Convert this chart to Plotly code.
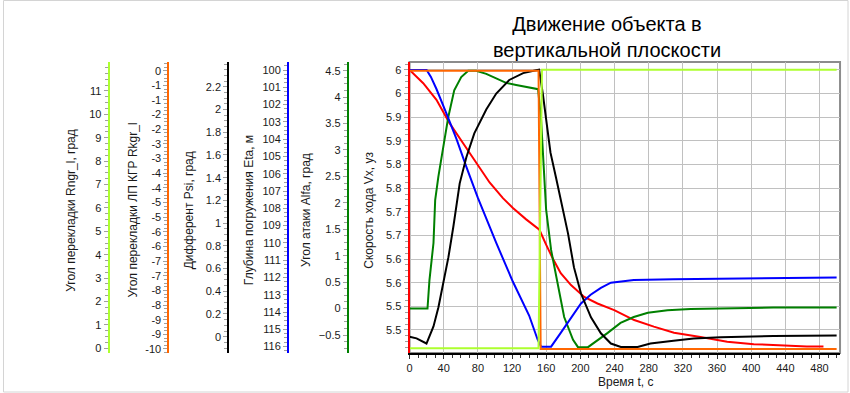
import plotly.graph_objects as go

# ---------------- data ----------------
# Скорость хода Vx, уз (red)
t_vx = [0, 16, 31.5, 47, 62.7, 78.2, 93.7, 109.3, 121, 136.5, 152, 160, 168, 177, 189,
        204.5, 220, 239.6, 263, 286, 309.6, 340.7, 371.9, 403, 434, 465, 484.6]
vx = [6.0, 5.972, 5.937, 5.887, 5.845, 5.803, 5.762, 5.729, 5.708, 5.684, 5.662, 5.630,
      5.600, 5.570, 5.545, 5.520, 5.506, 5.492, 5.471, 5.457, 5.444, 5.435, 5.425, 5.420,
      5.417, 5.415, 5.415]

# Угол атаки Alfa, град (green)
t_alfa = [0, 21, 23.3, 28, 30, 33.7, 39.5, 45.3, 52.3, 60.5, 68.7, 78, 89.8, 101.5, 113,
          124.8, 136.5, 150.5, 154, 159.9, 165.7, 173.9, 181, 191.4, 197.2, 208.9, 218, 232,
          247, 262.5, 279, 302, 329, 367.5, 426, 500]
alfa = [0, 0, 0.54, 1.24, 2.05, 2.49, 3.06, 3.62, 4.13, 4.38, 4.5, 4.5, 4.44, 4.36, 4.27,
        4.23, 4.19, 4.15, 3.57, 1.87, 1.11, 0.41, -0.16, -0.59, -0.73, -0.73, -0.63, -0.46,
        -0.27, -0.16, -0.08, -0.03, -0.01, 0.0, 0.02, 0.02]

# Глубина погружения Eta, м (blue)
t_eta = [0, 20, 25, 31.5, 43, 55, 66.5, 80, 101.5, 121, 140, 150, 154, 165.7, 177, 189,
         200.7, 212, 224, 235.7, 251, 262.5, 309, 364, 457, 500]
eta = [100, 100, 100.4, 101.1, 102.5, 104.0, 105.6, 107.4, 110.0, 112.25, 114.2, 115.6,
       116.0, 116.0, 115.2, 114.3, 113.5, 113.0, 112.6, 112.3, 112.2, 112.15, 112.1, 112.08,
       112.03, 112.0]

# Дифферент Psi, град (black)
t_psi = [0, 8.2, 19.8, 28, 33.8, 39.7, 45.5, 51.3, 58.7, 66.5, 75.8, 89.8, 101.5, 116.7,
         133, 148, 151.7, 156, 160, 165, 171.5, 179.7, 185.5, 192.5, 200.7, 212.4, 224,
         235.7, 247.4, 267, 282, 309, 332.6, 364, 426, 500]
psi = [0, -0.015, -0.06, 0.09, 0.26, 0.47, 0.70, 0.97, 1.35, 1.58, 1.79, 2.0, 2.14, 2.26,
       2.32, 2.345, 2.35, 2.14, 1.9, 1.62, 1.40, 1.12, 0.91, 0.61, 0.38, 0.17, 0.03,
       -0.06, -0.09, -0.09, -0.06, -0.035, -0.015, -0.005, 0.006, 0.01]

# Угол перекладки ЛП КГР Rkgr_l (orange)
t_rkgr = [0, 151, 153.5, 500]
rkgr = [0, 0, -10, -10]

# Угол перекладки Rngr_l, град (lime)
t_rngr = [0, 151, 155, 500]
rngr = [0, 0, 11.9, 11.9]

# tick labels
x_ticks = [0, 40, 80, 120, 160, 200, 240, 280, 320, 360, 400, 440, 480]
vx_tickvals = [6.0, 5.95, 5.9, 5.85, 5.8, 5.75, 5.7, 5.65, 5.6, 5.55, 5.5, 5.45]
vx_ticktext = ["6", "6", "5.9", "5.9", "5.8", "5.8", "5.7", "5.7", "5.6", "5.6", "5.5", "5.5"]
alfa_ticks = [-0.5, 0, 0.5, 1, 1.5, 2, 2.5, 3, 3.5, 4, 4.5]
eta_ticks = list(range(100, 117))
psi_ticks = [0, 0.2, 0.4, 0.6, 0.8, 1, 1.2, 1.4, 1.6, 1.8, 2, 2.2]
rkgr_ticktext = ["0", "-1", "-1", "-2", "-2", "-3", "-3", "-4", "-4", "-5", "-5", "-6",
                 "-6", "-7", "-7", "-8", "-8", "-9", "-9", "-10"]
rngr_ticks = list(range(0, 12))

# ---------------- layout helpers ----------------
W, H = 850, 393
TOP, BOT = 62, 353
LEFT, RIGHT = 408, 840
FONT = "Liberation Sans, Arial, sans-serif"
TXT = "#1a1a1a"


def fx(px):
    return px / W


def fy(py):
    return (BOT - py) / (BOT - TOP)


fig = go.Figure()
fig.add_trace(go.Scatter(x=t_rngr, y=rngr, yaxis="y6", mode="lines",
                         line=dict(color="#adff2f", width=2)))
fig.add_trace(go.Scatter(x=t_vx, y=vx, yaxis="y", mode="lines",
                         line=dict(color="#ff0000", width=2)))
fig.add_trace(go.Scatter(x=t_eta, y=eta, yaxis="y3", mode="lines",
                         line=dict(color="#0000ff", width=2)))
fig.add_trace(go.Scatter(x=t_alfa, y=alfa, yaxis="y2", mode="lines",
                         line=dict(color="#008000", width=2)))
fig.add_trace(go.Scatter(x=t_psi, y=psi, yaxis="y4", mode="lines",
                         line=dict(color="#000000", width=2)))
fig.add_trace(go.Scatter(x=t_rkgr, y=rkgr, yaxis="y5", mode="lines",
                         line=dict(color="#ff6600", width=2)))


def yax(color, rng, pos=None, tickvals=None, ticktext=None, minor_dtick=None, tick0=0,
        grid=False):
    d = dict(
        range=rng, showline=True, linecolor=color, linewidth=2,
        ticks="outside", ticklen=4, tickcolor="#a0a0a0", tickwidth=1,
        tickfont=dict(family=FONT, size=11, color=TXT),
        showgrid=grid, gridcolor="#c0c0c0", gridwidth=1, zeroline=False,
        tickmode="array", tickvals=tickvals, ticktext=ticktext,
        minor=dict(ticks="outside", ticklen=3, tickcolor="#a0a0a0", tickwidth=1,
                   tick0=tick0, dtick=minor_dtick, showgrid=False),
        fixedrange=True,
    )
    if pos is None:
        d.update(anchor="x", side="left", domain=[0, 1])
    else:
        d.update(anchor="free", position=fx(pos), overlaying="y", side="left")
    return d


fig.update_layout(
    width=W, height=H,
    margin=dict(l=0, r=0, t=TOP, b=H - BOT),
    paper_bgcolor="white", plot_bgcolor="rgba(0,0,0,0)",
    showlegend=False,
    title=dict(text="Движение объекта в<br>вертикальной плоскости",
               x=fx(607), xanchor="center", y=1 - 31 / H, yanchor="middle",
               font=dict(family=FONT, size=20, color="#000000")),
    xaxis=dict(
        domain=[fx(LEFT), fx(RIGHT)], range=[0, 504],
        showline=True, linecolor="#000000", linewidth=2,
        ticks="outside", ticklen=4, tickcolor="#333333",
        tickmode="array", tickvals=x_ticks,
        tickfont=dict(family=FONT, size=11, color=TXT),
        showgrid=True, gridcolor="#c0c0c0", gridwidth=1, zeroline=False,
        minor=dict(ticks="outside", ticklen=3, tickcolor="#333333", dtick=10, tick0=0,
                   showgrid=False),
        fixedrange=True,
    ),
    yaxis=yax("#ff0000", [5.4013, 6.0169], None, vx_tickvals, vx_ticktext, 0.0125,
              tick0=6.0, grid=True),
    yaxis2=yax("#008000", [-0.8405, 4.6646], 346, alfa_ticks, None, 0.125),
    yaxis3=yax("#0000ff", [116.368, 99.537], 286, eta_ticks, None, 0.25),
    yaxis4=yax("#000000", [-0.1435, 2.4181], 226, psi_ticks, None, 0.05),
    yaxis5=yax("#ff6600", [-10.144, 0.3126], 166, [-10 * i / 19 for i in range(20)],
               rkgr_ticktext, 10 / 76),
    yaxis6=yax("#adff2f", [-0.201, 12.235], 106, rngr_ticks, None, 0.25),
)

# axis titles
titles = [
    ("Угол перекладки Rngr_l, град", 68),
    ("Угол перекладки ЛП КГР Rkgr_l", 130),
    ("Дифферент Psi, град", 187),
    ("Глубина погружения Eta, м", 247),
    ("Угол атаки Alfa, град", 304),
    ("Скорость хода Vx, уз", 367),
]
for txt, px in titles:
    fig.add_annotation(text=txt, x=fx(px), y=fy(210), xref="paper", yref="paper",
                       textangle=-90, showarrow=False, xanchor="center", yanchor="middle",
                       font=dict(family=FONT, size=12, color=TXT))

fig.add_annotation(text="Время t, с", x=fx(625), y=fy(382), xref="paper", yref="paper",
                   showarrow=False, xanchor="center", yanchor="middle",
                   font=dict(family=FONT, size=12, color=TXT))

# plot frame and outer border
fig.add_shape(type="rect", xref="paper", yref="paper",
              x0=fx(LEFT), x1=fx(RIGHT), y0=fy(BOT), y1=fy(TOP),
              line=dict(color="#8c8c8c", width=2), layer="below")
fig.add_shape(type="rect", xref="paper", yref="paper",
              x0=fx(0.5), x1=fx(848), y0=fy(392), y1=fy(0.5),
              line=dict(color="#d4d4d4", width=1), layer="below")

fig.write_html("out.html",
               config={"displayModeBar": False, "staticPlot": True},
               post_script="document.body.style.margin='0px';"
                           "document.body.style.overflow='hidden';")
